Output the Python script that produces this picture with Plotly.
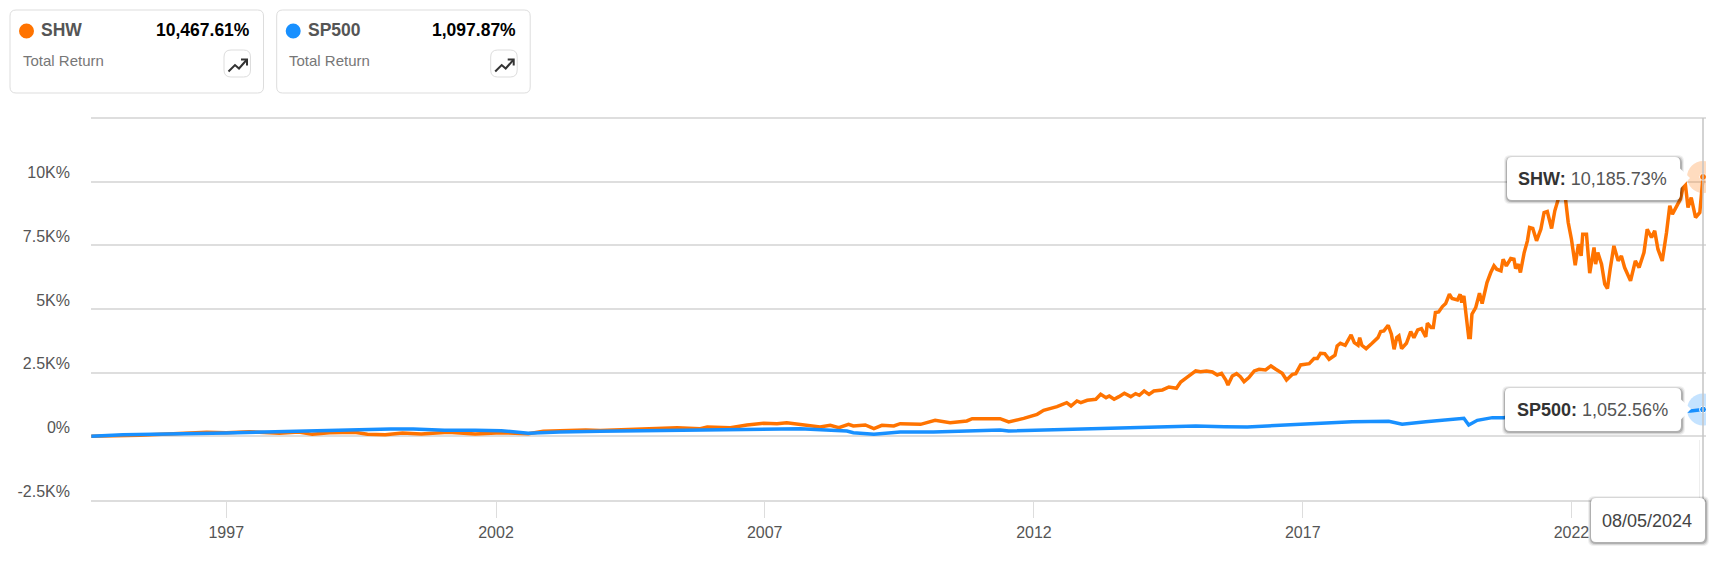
import pandas as pd
import plotly.graph_objects as go

# Values, x in decimal years, y in % total return
shw_years = [1994.6, 1995.5, 1996.75, 1997.11, 1997.54, 1998.10, 1998.46, 1998.71, 1999.03, 1999.50, 1999.74, 2000.07,
             2000.39, 2000.74, 2001.24, 2001.74, 2002.23, 2002.73, 2003.01, 2003.80, 2004.07, 2004.69, 2005.50, 2005.93,
             2006.06, 2006.49, 2006.80, 2007.11, 2007.36, 2007.54, 2007.92, 2008.16, 2008.35, 2008.51, 2008.69, 2008.78,
             2009.00, 2009.16, 2009.31, 2009.53, 2009.65, 2010.03, 2010.30, 2010.58, 2010.89, 2010.99, 2011.51, 2011.67,
             2011.95, 2012.20, 2012.32, 2012.57, 2012.75, 2012.83, 2012.94, 2013.01, 2013.13, 2013.29, 2013.38, 2013.48,
             2013.54, 2013.63, 2013.72, 2013.82, 2013.94, 2014.03, 2014.10, 2014.19, 2014.28, 2014.37, 2014.53, 2014.65,
             2014.79, 2014.87, 2014.98, 2015.06, 2015.15, 2015.24, 2015.35, 2015.46, 2015.55, 2015.63, 2015.71, 2015.75,
             2015.83, 2015.91, 2015.98, 2016.05, 2016.14, 2016.24, 2016.33, 2016.45, 2016.55, 2016.64, 2016.76, 2016.84,
             2016.95, 2017.01, 2017.10, 2017.26, 2017.35, 2017.41, 2017.47, 2017.55, 2017.63, 2017.74, 2017.78, 2017.84,
             2017.93, 2018.04, 2018.10, 2018.17, 2018.20, 2018.24, 2018.32, 2018.43, 2018.54, 2018.59, 2018.65, 2018.73,
             2018.79, 2018.84, 2018.89, 2018.93, 2018.98, 2019.07, 2019.15, 2019.21, 2019.28, 2019.35, 2019.43, 2019.46,
             2019.53, 2019.57, 2019.61, 2019.67, 2019.74, 2019.80, 2019.87, 2019.92, 2020.02, 2020.07, 2020.10, 2020.14,
             2020.18, 2020.23, 2020.26, 2020.29, 2020.36, 2020.43, 2020.48, 2020.52, 2020.57, 2020.64, 2020.70, 2020.75,
             2020.83, 2020.87, 2020.93, 2021.01, 2021.07, 2021.10, 2021.15, 2021.19, 2021.26, 2021.32, 2021.36, 2021.42,
             2021.49, 2021.57, 2021.63, 2021.69, 2021.77, 2021.83, 2021.89, 2021.94, 2022.00, 2022.03, 2022.08, 2022.14,
             2022.21, 2022.27, 2022.32, 2022.35, 2022.42, 2022.48, 2022.56, 2022.59, 2022.63, 2022.70, 2022.76, 2022.81,
             2022.86, 2022.93, 2023.01, 2023.07, 2023.13, 2023.24, 2023.33, 2023.40, 2023.49, 2023.55, 2023.63, 2023.69,
             2023.75, 2023.83, 2023.91, 2023.97, 2024.02, 2024.11, 2024.17, 2024.25, 2024.31, 2024.37, 2024.45, 2024.53,
             2024.59]
shw_values = [0, 40, 157, 144, 183, 118, 170, 78, 144, 157, 78, 65,
              131, 92, 157, 92, 144, 105, 197, 249, 230, 275, 340, 300,
              367, 340, 445, 511, 498, 537, 445, 367, 432, 340, 472, 406,
              445, 300, 432, 406, 498, 472, 629, 537, 603, 694, 694, 563,
              707, 865, 1022, 1166, 1323, 1192, 1388, 1323, 1415, 1454, 1650, 1520,
              1585, 1454, 1559, 1690, 1559, 1677, 1611, 1782, 1650, 1782, 1821, 1939,
              1886, 2135, 2305, 2436, 2568, 2541, 2568, 2528, 2410, 2476, 2214, 2017,
              2371, 2463, 2345, 2148, 2305, 2568, 2633, 2607, 2764, 2633, 2476, 2214,
              2436, 2463, 2803, 2856, 3052, 3052, 3262, 3249, 3026, 3183, 3550, 3655,
              3576, 3982, 3681, 3576, 3877, 3576, 3445, 3655, 3877, 4113, 4140, 4362,
              4009, 3419, 3877, 3943, 3445, 3655, 4113, 3877, 4179, 4231, 3904, 4441,
              4271, 4271, 4860, 4886, 5096, 5214, 5580, 5410, 5358, 5580, 5253, 5515,
              4860, 3877, 3877, 4795, 5056, 5620, 5214, 5580, 6039, 6432, 6694, 6563,
              6497, 6956, 6694, 6982, 6956, 6589, 6760, 6432, 7218, 7676, 8200, 8161,
              7676, 8135, 8790, 8829, 8161, 8856, 9314, 9640, 9707, 9314, 8397, 7742,
              6720, 7546, 7087, 7938, 7938, 6406, 7414, 6760, 7218, 6760, 5974, 5803,
              6563, 7480, 6890, 7087, 6628, 6105, 6890, 6628, 7218, 8135, 7808, 8070,
              7349, 6890, 8004, 9052, 8724, 9117, 9314, 10100, 8986, 9379, 8594, 8790,
              10185.73]

sp500_years = [1994.6, 1995.19, 1997.11, 1998.10, 1998.68, 1998.96, 1999.53, 2000.17, 2000.59, 2001.17, 2001.74, 2002.23,
               2002.73, 2003.31, 2004.07, 2005.31, 2007.17, 2007.79, 2008.66, 2008.78, 2009.16, 2009.65, 2010.27, 2010.58,
               2011.51, 2011.67, 2012.75, 2013.37, 2013.94, 2015.15, 2015.68, 2016.11, 2017.29, 2018.06, 2018.74, 2018.99,
               2019.43, 2020.14, 2020.23, 2020.39, 2020.67, 2020.88, 2021.50, 2022.00, 2022.75, 2023.50, 2024.36, 2024.59]
sp500_values = [0, 65, 131, 183, 223, 249, 262, 288, 288, 236, 236, 223,
                118, 170, 200, 236, 275, 300, 210, 144, 78, 170, 170, 197,
                249, 210, 275, 314, 340, 406, 380, 367, 498, 577, 590, 472,
                577, 708, 445, 629, 734, 734, 950, 1090, 800, 960, 995, 1052.56]

tick_years = [1997.11, 2002.13, 2007.13, 2012.14, 2017.14, 2022.14]
tick_labels = ["1997", "2002", "2007", "2012", "2017", "2022"]
y_ticks = [-2500, 0, 2500, 5000, 7500, 10000, 12500]
y_labels = ["-2.5K%", "0%", "2.5K%", "5K%", "7.5K%", "10K%", ""]

cards = [("SHW", "10,467.61%", "#ff7300"), ("SP500", "1,097.87%", "#1890ff")]

W, H = 1721, 562
L, R, T, B = 91, 15, 117, 62
FONT = "Liberation Sans"


def to_date(y):
    year = int(y)
    return pd.Timestamp(year=year, month=1, day=1) + pd.Timedelta(days=(y - year) * 365.25)


# page pixels to paper coordinates, for the cards and tooltips
def px(x):
    return (x - L) / (W - L - R)


def py(y):
    return 1 - (y - T) / (H - T - B)


def box(x0, y0, x1, y1, r):
    return (f"M{px(x0 + r)},{py(y0)} L{px(x1 - r)},{py(y0)} Q{px(x1)},{py(y0)} {px(x1)},{py(y0 + r)} "
            f"L{px(x1)},{py(y1 - r)} Q{px(x1)},{py(y1)} {px(x1 - r)},{py(y1)} L{px(x0 + r)},{py(y1)} "
            f"Q{px(x0)},{py(y1)} {px(x0)},{py(y1 - r)} L{px(x0)},{py(y0 + r)} Q{px(x0)},{py(y0)} {px(x0 + r)},{py(y0)} Z")


def poly(points, close=False):
    d = "M" + " L".join(f"{px(a)},{py(b)}" for a, b in points)
    return d + " Z" if close else d


def shape(path, fill="rgba(0,0,0,0)", line="rgba(0,0,0,0)", width=1):
    return dict(type="path", xref="paper", yref="paper", path=path, fillcolor=fill,
                line=dict(color=line, width=width), layer="above")


def text(x, y, s, size, color, anchor="left"):
    return dict(xref="paper", yref="paper", x=px(x), y=py(y), text=s, showarrow=False, xanchor=anchor, yanchor="middle",
                font=dict(family=FONT, size=size, color=color))


def shadow(x0, y0, x1, y1):
    out = []
    for grow, alpha in [(3, 0.06), (2, 0.10), (1, 0.18)]:
        out.append(shape(box(x0 - grow, y0 - grow + 1, x1 + grow + 1, y1 + grow + 1, 6), fill=f"rgba(0,0,0,{alpha})"))
    return out


def tooltip(x0, y0, x1, y1, tip_x, tip_y):
    mid = (y0 + y1) / 2
    out = shadow(x0, y0, x1, y1)
    out.append(shape(box(x0, y0, x1, y1, 5), fill="white"))
    out.append(shape(poly([(x1 - 1, mid - 11), (tip_x, tip_y), (x1 - 1, mid + 11)], close=True), fill="white"))
    return out


fig = go.Figure()
fig.add_trace(go.Scatter(x=[to_date(y) for y in shw_years], y=shw_values, mode="lines", name="SHW",
                         line=dict(color="#ff7300", width=3.5)))
fig.add_trace(go.Scatter(x=[to_date(y) for y in sp500_years], y=sp500_values, mode="lines", name="SP500",
                         line=dict(color="#1890ff", width=3.5)))

# halo and dot on the hovered (last) point, clipped by the axis like the original
for ys, vs, color in [(shw_years, shw_values, "#ff7300"), (sp500_years, sp500_values, "#1890ff")]:
    fig.add_trace(go.Scatter(x=[to_date(ys[-1])], y=[vs[-1]], mode="markers", showlegend=False,
                             marker=dict(size=32, color=color, opacity=0.25, line=dict(width=0))))
    fig.add_trace(go.Scatter(x=[to_date(ys[-1])], y=[vs[-1]], mode="markers", showlegend=False,
                             marker=dict(size=7, color=color, line=dict(color="white", width=1))))

shapes = []
annotations = []

# summary cards on top
for i, (name, total, color) in enumerate(cards):
    dx = i * 266.7
    shapes.append(shape(box(10 + dx, 10, 263.5 + dx, 93, 6), fill="white", line="#dddddd"))
    shapes.append(dict(type="circle", xref="paper", yref="paper", x0=px(19 + dx), x1=px(34 + dx), y0=py(23.5), y1=py(38.5),
                       fillcolor=color, line=dict(width=0), layer="above"))
    shapes.append(shape(box(224 + dx, 50, 250.5 + dx, 77, 7), fill="white", line="#dddddd"))
    shapes.append(shape(poly([(228.5 + dx, 71.5), (235 + dx, 65), (239 + dx, 68.5), (246.5 + dx, 60)]), line="#333333", width=2))
    shapes.append(shape(poly([(241 + dx, 59.5), (247 + dx, 59.5), (247 + dx, 65.5)]), line="#333333", width=2))
    annotations.append(text(39 + dx, 30.5, f"<b>{name}</b>", 17.5, "#555555"))
    annotations.append(text(251.5 + dx, 30.5, f"<b>{total}</b>", 17.5, "#000000", anchor="right"))
    annotations.append(text(20.5 + dx, 61, "Total Return", 15, "#777777"))

# crosshair
shapes.append(dict(type="line", xref="paper", yref="paper", x0=px(1703), x1=px(1703), y0=py(118), y1=py(500),
                   line=dict(color="#c4c4c4", width=1.5), layer="above"))
shapes.append(dict(type="line", xref="paper", yref="paper", x0=px(1699.5), x1=px(1699.5), y0=py(440), y1=py(500),
                   line=dict(color="#eeeeee", width=1), layer="above"))

# tooltips
shapes += tooltip(1507, 157, 1680, 200, 1690, 178)
shapes += tooltip(1505, 388, 1681, 431, 1691, 409)
shapes += shadow(1591, 498, 1705, 542)
shapes.append(shape(box(1591, 498, 1705, 542, 5), fill="white"))

annotations.append(text(1516, 179, "<b>SHW:</b> <span style='color:#555555'>10,185.73%</span>", 18, "#333333"))
annotations.append(text(1515, 410, "<b>SP500:</b> <span style='color:#555555'>1,052.56%</span>", 18, "#333333"))
annotations.append(text(1647, 521, "08/05/2024", 18, "#444444", anchor="center"))

fig.update_layout(
    width=W, height=H, autosize=False, showlegend=False,
    paper_bgcolor="white", plot_bgcolor="white",
    margin=dict(l=L, r=R, t=T, b=B, pad=0),
    font=dict(family=FONT, size=16, color="#555555"),
    shapes=shapes, annotations=annotations,
    xaxis=dict(type="date", range=[to_date(1994.594), to_date(2024.645)], tickmode="array",
               tickvals=[to_date(y) for y in tick_years], ticktext=tick_labels, showgrid=False, zeroline=False,
               showline=True, linecolor="#dddddd", linewidth=2, ticks="outside", ticklen=16, tickcolor="#dddddd",
               tickwidth=1, tickfont=dict(size=16, color="#555555"), ticklabelstandoff=1),
    yaxis=dict(range=[-2500, 12540], tickmode="array", tickvals=y_ticks, ticktext=y_labels, showgrid=True,
               gridcolor="#dedede", gridwidth=1.5, zeroline=False, showline=False, ticks="",
               tickfont=dict(size=16, color="#555555"), ticklabelstandoff=20, ticklabelshift=-9),
)

fig.write_html("out.html", config={"displayModeBar": False},
               post_script="document.body.style.margin='0';document.body.style.overflow='hidden';")
